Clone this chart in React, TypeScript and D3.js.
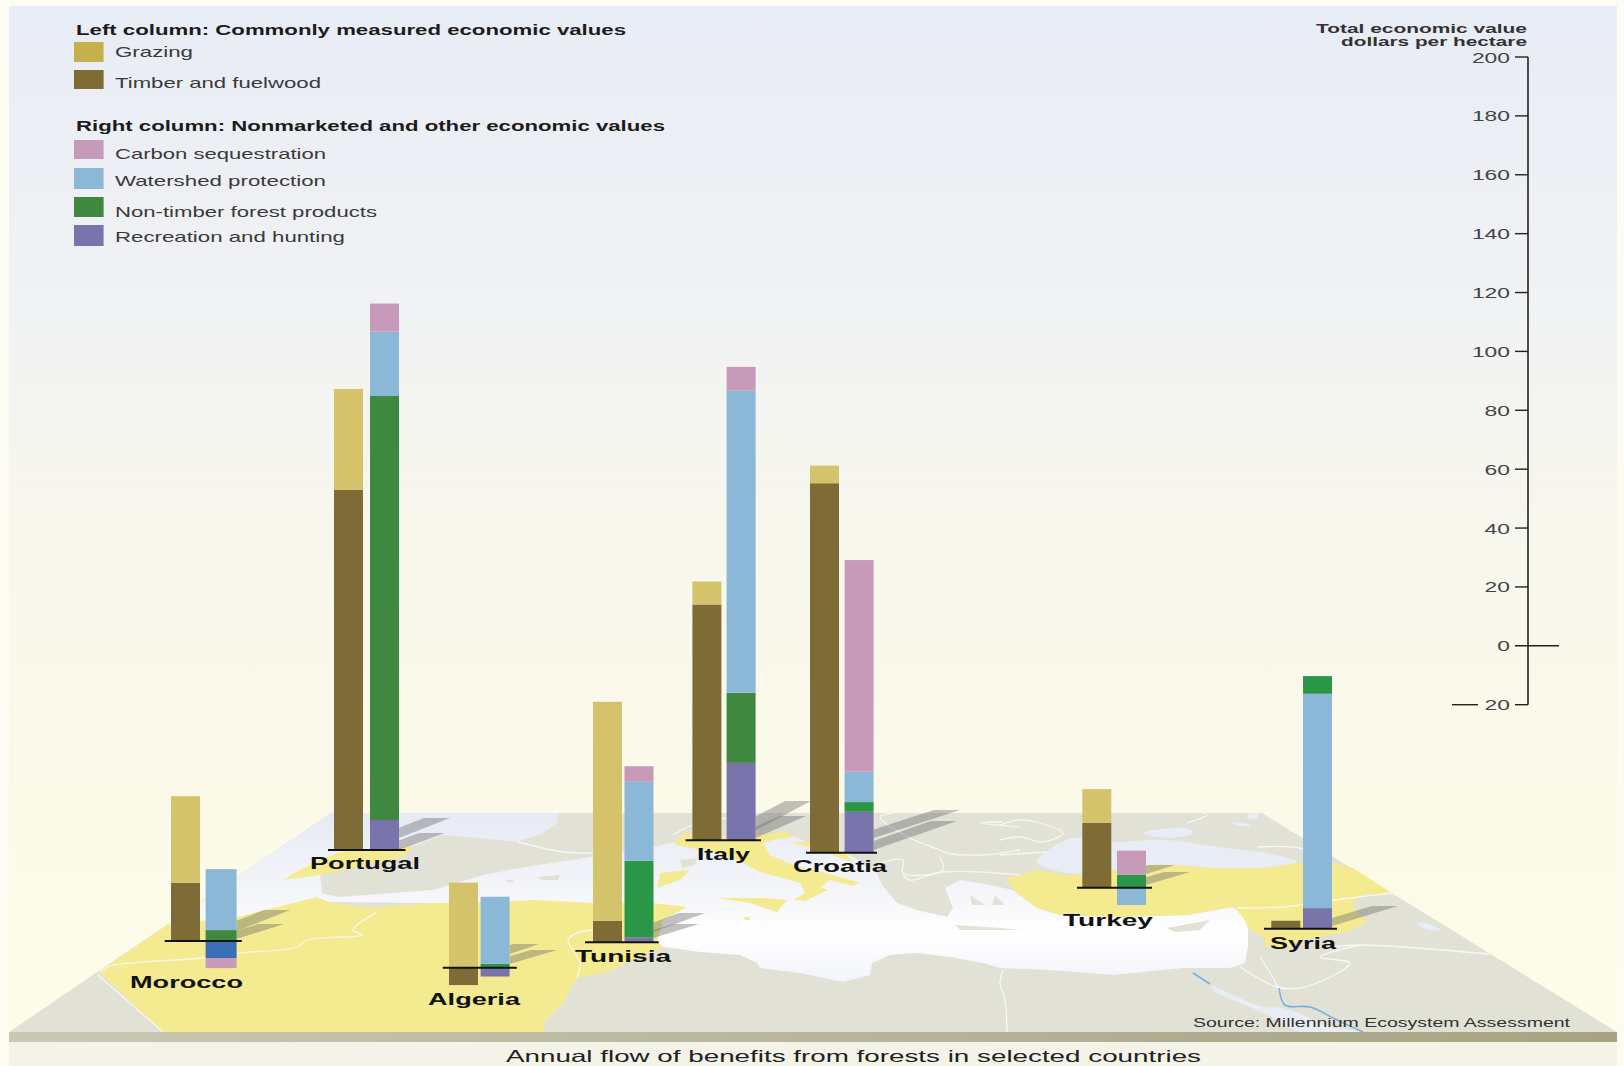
import React from "react";
import * as d3 from "d3";

// Annual flow of forest benefits, dollars per hectare. Negative values hang below the ground line.
const countries = ["Morocco", "Portugal", "Algeria", "Tunisia", "Italy", "Croatia", "Turkey", "Syria"];
const grazing = [29.4, 34.2, 28.9, 74.4, 7.8, 6, 11.5, 0];
const timber = [19.8, 122.4, -5.9, 7.3, 80.1, 125.5, 22, 2.7];
const recreation = [-5.8, 10.2, -3, 1.7, 26.3, 13.9, 0, 7];
const nonTimber = [3.7, 144, 1.3, 26, 23.8, 3.3, 4.4, 6];
const watershed = [20.7, 21.9, 22.8, 26.8, 102.6, 10.3, -5.9, 72.8];
const carbon = [-3.4, 9.5, 0, 5.3, 8.1, 71.9, 8.2, 0];
const axisTicks = [200, 180, 160, 140, 120, 100, 80, 60, 40, 20, 0, -20];

const seriesColors: Record<string, string> = {
  grazing: "#d5c36c",
  timber: "#7f6b35",
  carbon: "#c79ab9",
  watershed: "#8cb8d8",
  nonTimber: "#3f8840",
  recreation: "#7a74ad",
};
const brightGreen = "#2a9648";
const brightGreenCountries = ["Algeria", "Tunisia", "Turkey", "Syria", "Croatia"];
const belowRecreationColor: Record<string, string> = { Morocco: "#3a6fb5" };
const rightOrderDefault = ["recreation", "nonTimber", "watershed", "carbon"];
const rightOrderSyria = ["recreation", "watershed", "nonTimber", "carbon"];

// Where each country's pair of columns stands on the map.
const groundY = [941, 850, 967.7, 942.3, 840.3, 852.7, 887.7, 928.7];
const leftColumnX = [171, 334, 449, 593, 692.4, 810, 1082.3, 1271.3];
const rightColumnX = [205.6, 370, 480.6, 624.5, 726.6, 844.6, 1117, 1303];
const leftColumnW = 29;
const rightColumnW = [31, 29, 29, 29, 29, 29, 29, 29];
const groundLineX = [
  [164.7, 241.8], [328, 405.5], [442.8, 516.8], [585, 658.7],
  [685.6, 761], [806, 877], [1077, 1152], [1264, 1337],
];
// Country caption: left edge, right edge, baseline.
const captionBox = [
  [130, 243, 988], [310, 420, 869], [428, 520, 1005], [575, 671, 962],
  [697, 750, 860], [793, 887, 872], [1063, 1153, 926], [1270, 1336, 949],
];
// Cast shadows: [tipX, tipY, footY] for each column pair.
const shadowSets: number[][][] = [
  [[290, 910, 931], [284, 924, 939]],
  [[450, 818, 838], [445, 833, 850]],
  [[539, 944, 954], [557, 950, 964]],
  [[705, 913, 932], [699, 924, 938]],
  [[811, 801, 830], [806, 816, 838]],
  [[960, 810, 838], [957, 821, 850]],
  [[1175, 865, 874], [1190, 872, 885]],
  [[1398, 906, 926]],
];

const planeOutline: [number, number][] = [[9, 1032], [331, 813], [1262, 813], [1617, 1032]];

const waterMain: [number, number][] = [
  [331, 813], [557, 813], [558, 822], [543, 833], [517, 842], [480, 838], [443, 835], [417, 845],
  [345, 860], [320, 875], [322, 893], [337, 897], [367, 895], [433, 890], [450, 885], [483, 875],
  [520, 868], [583, 858], [640, 850], [675, 842], [700, 836], [793, 836], [810, 843], [850, 855],
  [877, 873], [882, 885], [897, 903], [917, 910], [947, 917], [953, 908], [945, 888], [960, 880],
  [985, 884], [1013, 890], [1037, 908], [1060, 915], [1117, 917], [1187, 915], [1232, 907],
  [1237, 910], [1245, 920], [1248, 928], [1248, 947], [1245, 963], [1230, 968], [1183, 968],
  [1113, 975], [1050, 970], [1000, 968], [983, 963], [950, 957], [917, 953], [890, 955],
  [872, 963], [870, 975], [843, 982], [800, 973], [760, 968], [757, 963], [740, 955], [700, 952],
  [673, 948], [663, 947], [640, 925], [600, 905], [328, 902], [237, 917], [167, 925], [99, 972],
];
const blackSea: [number, number][] = [
  [1037, 862], [1053, 847], [1073, 838], [1110, 842], [1167, 840], [1217, 847], [1267, 853],
  [1297, 862], [1260, 868], [1217, 868], [1150, 865], [1103, 872], [1067, 873],
];
const azovSea: [number, number][] = [[1143, 833], [1187, 828], [1193, 833], [1167, 838]];
const redSea: [number, number][] = [
  [1212, 986], [1233, 995], [1263, 1007], [1283, 1008], [1333, 1027], [1363, 1032], [1300, 1032],
  [1277, 1020], [1257, 1010], [1213, 990],
];
const lakes: [number, number][][] = [
  [[1347, 882], [1360, 880], [1367, 885], [1350, 887]],
  [[1417, 923], [1430, 924], [1440, 930], [1425, 929]],
  [[1247, 815], [1258, 813], [1258, 818], [1250, 819]],
  [[1232, 822], [1248, 824], [1250, 826], [1236, 825]],
];

const westNorthAfrica: [number, number][] = [
  [99, 972], [167, 925], [237, 917], [317, 897], [328, 902], [367, 908], [433, 903], [500, 902],
  [533, 900], [593, 903], [653, 903], [687, 907], [663, 920], [657, 942], [663, 947], [633, 960],
  [607, 972], [577, 978], [563, 1003], [543, 1023], [545, 1032], [163, 1032],
];
const portugalLand: [number, number][] = [
  [340, 852], [413, 846], [405, 856], [345, 870], [320, 875], [283, 880], [300, 870], [325, 858],
];
const italyLand: [number, number][] = [
  [675, 842], [685, 833], [720, 837], [753, 835], [787, 832], [793, 837], [777, 839], [763, 843],
  [770, 855], [793, 865], [833, 875], [860, 883], [853, 886], [830, 880], [820, 887], [828, 890],
  [805, 901], [793, 900], [805, 893], [800, 883], [783, 878], [760, 872], [743, 863], [730, 857],
  [703, 850], [675, 845],
];
const croatiaLand: [number, number][] = [
  [790, 842], [810, 842], [847, 855], [853, 862], [840, 858], [820, 850],
];
const sicilyLand: [number, number][] = [[717, 898], [767, 898], [787, 900], [777, 912], [750, 903]];
const sardiniaLand: [number, number][] = [[660, 873], [690, 870], [680, 880], [657, 888]];
const maltaLand: [number, number][] = [[743, 917], [750, 917], [750, 920], [745, 920]];
const turkeySyriaLand: [number, number][] = [
  [1007, 878], [1037, 870], [1067, 875], [1103, 872], [1150, 865], [1173, 865], [1217, 868],
  [1267, 868], [1297, 863], [1333, 863], [1353, 868], [1392, 893], [1363, 895], [1352, 903],
  [1353, 908], [1367, 922], [1347, 932], [1303, 940], [1287, 948], [1267, 947], [1263, 937],
  [1248, 928], [1245, 920], [1237, 910], [1232, 907], [1187, 915], [1117, 917], [1060, 915],
  [1037, 908], [1013, 890],
];
const greySpecks: [number, number][][] = [
  [[537, 877], [560, 875], [558, 880], [542, 880]],
  [[507, 880], [514, 880], [512, 882], [507, 882]],
  [[680, 860], [697, 858], [695, 865], [682, 868]],
  [[955, 925], [1000, 928], [1020, 930], [960, 930]],
  [[1167, 928], [1210, 920], [1200, 930], [1175, 932]],
  [[970, 895], [985, 905], [972, 905]],
  [[995, 895], [1005, 905], [992, 905]],
];
const borderLines: [number, number][][] = [
  [[377, 912], [353, 930], [362, 935], [307, 940], [297, 947], [240, 953], [203, 958], [110, 966], [100, 972]],
  [[98, 975], [163, 1032]],
  [[577, 978], [580, 963], [568, 940], [577, 933], [593, 930]],
  [[1003, 970], [1000, 983], [1005, 1000], [1007, 1032]],
  [[1237, 908], [1283, 907], [1350, 898], [1392, 893]],
  [[1333, 947], [1360, 945], [1490, 954]],
  [[1360, 945], [1320, 957], [1350, 963], [1338, 973], [1300, 988], [1277, 987], [1240, 967]],
  [[1260, 957], [1277, 985], [1280, 995]],
  [[1000, 825], [1020, 820], [1040, 823], [1063, 833], [1043, 842], [1020, 837], [1000, 840]],
  [[1000, 855], [1047, 852]],
  [[893, 813], [880, 817], [910, 838], [940, 850], [947, 853], [983, 855], [1020, 850]],
  [[880, 863], [903, 860], [903, 873], [943, 870], [940, 857]],
  [[903, 875], [910, 880], [943, 872], [1020, 875]],
  [[1003, 822], [980, 823], [1020, 827]],
  [[518, 842], [564, 852], [593, 853]],
  [[673, 835], [700, 822], [735, 818]],
  [[1187, 823], [1207, 815], [1203, 813]],
  [[1257, 847], [1300, 848], [1325, 858]],
];
const riverBranches: [number, number][][] = [
  [[1279, 988], [1285, 1005], [1310, 1007], [1337, 1020], [1363, 1032]],
  [[1193, 973], [1210, 984]],
];

// Legend and annotation text: label, left, right, baseline.
const legendLines: [string, number, number, number, boolean][] = [
  ["Left column: Commonly measured economic values", 76, 626, 35, true],
  ["Grazing", 115, 193, 57, false],
  ["Timber and fuelwood", 115, 321, 88, false],
  ["Right column: Nonmarketed and other economic values", 76, 665, 131, true],
  ["Carbon sequestration", 115, 326, 159, false],
  ["Watershed protection", 115, 326, 186, false],
  ["Non-timber forest products", 115, 377, 217, false],
  ["Recreation and hunting", 115, 345, 242, false],
];
const legendSwatches: [string, number, number][] = [
  ["#c5b04e", 42, 62],
  ["#7f6b35", 70, 89],
  ["#c79ab9", 140, 159],
  ["#8cb8d8", 168, 189],
  ["#3f8840", 197, 217],
  ["#7a74ad", 225, 246],
];

const FONT = "'Liberation Sans', Arial, sans-serif";
const INK = "#222";

const yScale = d3.scaleLinear().domain([-20, 200]).range([704.7, 57]);
const dy = (v: number) => yScale(v) - yScale(0);
const shape = d3.line().curve(d3.curveCatmullRomClosed.alpha(0.5));
const polyline = d3.line().curve(d3.curveCatmullRom.alpha(0.5));
const straight = (pts: [number, number][]) => d3.line()(pts) + "Z";

function Stretched({ text, x0, x1, y, size, bold, fill }: { text: string; x0: number; x1: number; y: number; size: number; bold?: boolean; fill?: string }) {
  return (
    <text
      x={x0}
      y={y}
      textLength={x1 - x0}
      lengthAdjust="spacingAndGlyphs"
      fontFamily={FONT}
      fontSize={size}
      fontWeight={bold ? 700 : 400}
      fill={fill ?? INK}
    >
      {text}
    </text>
  );
}

function ColumnPair({ i }: { i: number }) {
  const name = countries[i];
  const row: Record<string, number> = {
    grazing: grazing[i],
    timber: timber[i],
    recreation: recreation[i],
    nonTimber: nonTimber[i],
    watershed: watershed[i],
    carbon: carbon[i],
  };
  const rightKeys = name === "Syria" ? rightOrderSyria : rightOrderDefault;
  const diverging = (keys: string[]) =>
    d3.stack<Record<string, number>>().keys(keys).offset(d3.stackOffsetDiverging)([row]);
  const colorFor = (key: string, value: number) => {
    if (key === "nonTimber" && brightGreenCountries.includes(name)) return brightGreen;
    if (key === "recreation" && value < 0 && belowRecreationColor[name]) return belowRecreationColor[name];
    return seriesColors[key];
  };
  const draw = (keys: string[], x: number, w: number) =>
    diverging(keys).map((s) => {
      const [a, b] = s[0];
      if (a === b) return null;
      const top = groundY[i] + dy(Math.max(a, b));
      const bottom = groundY[i] + dy(Math.min(a, b));
      return <rect key={s.key} x={x} y={top} width={w} height={bottom - top} fill={colorFor(s.key, row[s.key])} />;
    });
  return (
    <g>
      {draw(["timber", "grazing"], leftColumnX[i], leftColumnW)}
      {draw(rightKeys, rightColumnX[i], rightColumnW[i])}
    </g>
  );
}

function Shadows({ i }: { i: number }) {
  const right = rightColumnX[i] + rightColumnW[i];
  const width = 26;
  return (
    <g>
      {shadowSets[i].map(([tx, ty, foot], k) => {
        const slope = (foot - ty) / (tx - right);
        const pts: [number, number][] = [[right, foot], [tx, ty], [tx - width, ty], [right, foot - slope * width]];
        return <path key={k} d={straight(pts)} fill="#6e6e6e" opacity={0.42} />;
      })}
    </g>
  );
}

export default function App() {
  return (
    <svg
      width={1624}
      height={1066}
      viewBox="0 0 1624 1066"
      style={{ position: "absolute", left: 0, top: 0, display: "block" }}
    >
      <defs>
        <linearGradient id="sky" x1="0" y1="0" x2="0" y2="1">
          <stop offset="0" stopColor="#e8ecf5" />
          <stop offset="0.3" stopColor="#f1f2f3" />
          <stop offset="0.5" stopColor="#f8f7ed" />
          <stop offset="0.76" stopColor="#fbf9e8" />
          <stop offset="1" stopColor="#fefde8" />
        </linearGradient>
        <linearGradient id="sea" gradientUnits="userSpaceOnUse" x1="0" y1="813" x2="0" y2="1032">
          <stop offset="0" stopColor="#e6eaf4" />
          <stop offset="0.4" stopColor="#f6f7fa" />
          <stop offset="0.55" stopColor="#ffffff" />
          <stop offset="0.75" stopColor="#f3f5fa" />
          <stop offset="1" stopColor="#e8ecf6" />
        </linearGradient>
        <linearGradient id="edge" x1="0" y1="0" x2="1" y2="0">
          <stop offset="0" stopColor="#c9c8b2" />
          <stop offset="1" stopColor="#a7a382" />
        </linearGradient>
      </defs>

      <rect width={1624} height={1066} fill="#fdfcf2" />
      <rect x={9} y={6} width={1608} height={1036} fill="url(#sky)" />
      <rect x={9} y={1042} width={1608} height={24} fill="#f3f3e8" />

      {/* Ground plane and geography */}
      <path d={straight(planeOutline)} fill="#e1e1d6" />
      <path d={straight(waterMain)} fill="url(#sea)" />
      {[blackSea, azovSea, redSea, ...lakes].map((p, i) => (
        <path key={i} d={shape(p) ?? ""} fill="#e8ecf5" />
      ))}
      {greySpecks.map((p, i) => (
        <path key={i} d={straight(p)} fill="#e1e1d6" />
      ))}
      {[westNorthAfrica, portugalLand, italyLand, croatiaLand, sicilyLand, sardiniaLand, maltaLand, turkeySyriaLand].map((p, i) => (
        <path key={i} d={straight(p)} fill="#f4ea90" />
      ))}
      {borderLines.map((p, i) => (
        <path key={i} d={polyline(p) ?? ""} fill="none" stroke="#f8f8f2" strokeWidth={1.3} />
      ))}
      {riverBranches.map((p, i) => (
        <path key={i} d={polyline(p) ?? ""} fill="none" stroke="#6fb2e0" strokeWidth={1.6} />
      ))}
      <rect x={9} y={1032} width={1608} height={10} fill="url(#edge)" />

      {/* Shadows sit under every column */}
      {countries.map((c, i) => (
        <Shadows key={c} i={i} />
      ))}

      {/* Columns, ground lines and country names */}
      {countries.map((c, i) => (
        <g key={c}>
          <ColumnPair i={i} />
          <line x1={groundLineX[i][0]} x2={groundLineX[i][1]} y1={groundY[i]} y2={groundY[i]} stroke="#111" strokeWidth={2} />
          <Stretched text={c} x0={captionBox[i][0]} x1={captionBox[i][1]} y={captionBox[i][2]} size={17} bold fill="#111" />
        </g>
      ))}

      {/* Legend */}
      {legendSwatches.map(([fill, y0, y1]) => (
        <rect key={fill} x={74} y={y0} width={29.6} height={y1 - y0} fill={fill} />
      ))}
      {legendLines.map(([t, x0, x1, y, bold]) => (
        <Stretched key={t} text={t} x0={x0} x1={x1} y={y} size={bold ? 14.5 : 15} bold={bold} fill={bold ? "#1c1c1c" : "#3a3a3a"} />
      ))}

      {/* Value axis; zero crosses the spine and the lowest tick carries a long minus sign */}
      <Stretched text="Total economic value" x0={1316} x1={1527} y={33} size={13.5} bold fill="#333" />
      <Stretched text="dollars per hectare" x0={1341} x1={1527} y={46} size={13.5} bold fill="#333" />
      <line x1={1528} x2={1528} y1={yScale(200)} y2={yScale(-20)} stroke="#222" strokeWidth={1.6} />
      {axisTicks.map((t) => {
        const y = yScale(t);
        const label = String(Math.abs(t));
        const digits = label.length * 12.7;
        return (
          <g key={t}>
            <line x1={1515} x2={t === 0 ? 1559 : 1528} y1={y} y2={y} stroke="#222" strokeWidth={1.4} />
            {t < 0 ? <line x1={1452} x2={1478} y1={y} y2={y} stroke="#222" strokeWidth={1.4} /> : null}
            <Stretched text={label} x0={1510 - digits} x1={1510} y={y + 5.5} size={14} fill="#444" />
          </g>
        );
      })}

      <Stretched text="Source: Millennium Ecosystem Assessment" x0={1193} x1={1570} y={1027} size={13.5} fill="#333" />
      <Stretched text="Annual flow of benefits from forests in selected countries" x0={506} x1={1201} y={1062} size={16.5} fill="#222" />
    </svg>
  );
}
